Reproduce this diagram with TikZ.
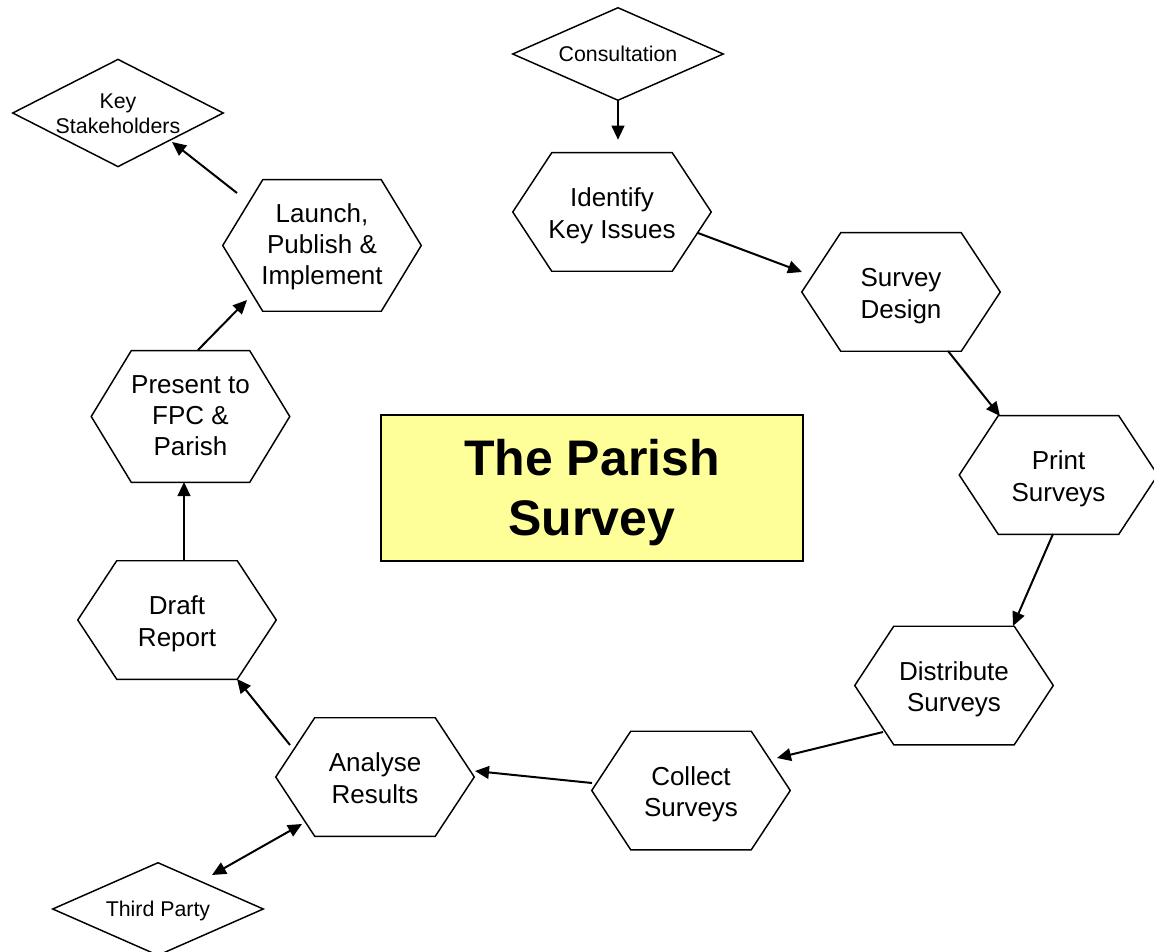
\documentclass[tikz,border=0pt]{standalone}
\usepackage{fontspec}
\setmainfont{Liberation Sans}
\usetikzlibrary{calc,arrows.meta}
\definecolor{titlefill}{HTML}{FFFF99}
\tikzset{
  hexbox/.style={rectangle,inner sep=0pt,minimum width=148.5pt,minimum height=88.5pt,font=\fontsize{19.5}{23.4}\selectfont},
  hextall/.style={hexbox,minimum height=98.25pt},
  diabox/.style={rectangle,inner sep=0pt,minimum width=157.5pt,minimum height=69pt,font=\fontsize{16}{19}\selectfont},
  outline/.style={draw=black,line width=1.1pt,line join=miter},
  conn/.style={draw=black,line width=1.5pt,-{Triangle[length=10.5pt,width=9.5pt]}},
  conn2/.style={draw=black,line width=1.5pt,{Triangle[length=10.5pt,width=9.5pt]}-{Triangle[length=10.5pt,width=9.5pt]}},
  titlebox/.style={rectangle,draw=black,line width=2.2pt,fill=titlefill,minimum width=316.5pt,minimum height=109.5pt,inner sep=0pt,font=\bfseries\fontsize{37.5}{45}\selectfont}
}
\newcommand{\lowtext}[2][3.2pt]{\raisebox{-#1}[\height][\depth]{\begin{tabular}{@{}c@{}}#2\end{tabular}}}
\newcommand{\hexline}[2]{\draw[outline] (#1.west) -- ($(#1.north west)+(#2,0)$) -- ($(#1.north east)+(-#2,0)$) -- (#1.east) -- ($(#1.south east)+(-#2,0)$) -- ($(#1.south west)+(#2,0)$) -- cycle;}
\newcommand{\dialine}[1]{\draw[outline] (#1.west) -- (#1.north) -- (#1.east) -- (#1.south) -- cycle;}
\begin{document}
\begin{tikzpicture}[x=0.75pt,y=-0.75pt]
\useasboundingbox (0,0) rectangle (1154,952);
% title
\node[titlebox] (title) at (592,488) {\lowtext[4pt]{The Parish\\Survey}};
% hexagons
\node[hexbox] (id) at (612,212) {\lowtext{Identify\\Key Issues}};
\node[hexbox] (sd) at (901,292) {\lowtext{Survey\\Design}};
\node[hexbox] (pr) at (1058.5,475) {\lowtext{Print\\Surveys}};
\node[hexbox] (di) at (954,685.5) {\lowtext{Distribute\\Surveys}};
\node[hexbox] (co) at (691,790.5) {\lowtext{Collect\\Surveys}};
\node[hexbox] (an) at (375,777) {\lowtext{Analyse\\Results}};
\node[hexbox] (dr) at (177,620) {\lowtext{Draft\\Report}};
\node[hextall] (pf) at (190.5,416.5) {\lowtext[1.5pt]{Present to\\FPC \&\\Parish}};
\node[hextall] (la) at (322,245.5) {\lowtext[1.5pt]{Launch,\\Publish \&\\Implement}};
\foreach \n in {id,sd,pr,di,co,an,dr} {\hexline{\n}{39}}
\foreach \n in {pf,la} {\hexline{\n}{40}}
% diamonds
\node[diabox] (cons) at (618,54) {\lowtext[2pt]{Consultation}};
\node[diabox,minimum height=80pt] (ks) at (118,113) {\lowtext[2pt]{Key\\Stakeholders}};
\node[diabox] (tp) at (158,909) {\lowtext[1.5pt]{Third Party}};
\foreach \n in {cons,ks,tp} {\dialine{\n}}
% connectors
\draw[conn] (cons.south) -- ($(id.north)+(6,-13)$);
\draw[conn] ($(id)+(86,21)$) -- ($(sd)+(-99,-20)$);
\draw[conn] ($(sd)+(47,59)$) -- ($(pr)+(-58.5,-59)$);
\draw[conn] ($(pr)+(-5.5,59)$) -- ($(di)+(59,-59.5)$);
\draw[conn] ($(di)+(-71,46.5)$) -- ($(co)+(86,-32.5)$);
\draw[conn] ($(co)+(-99,-7.5)$) -- ($(an)+(100,-6)$);
\draw[conn] ($(an)+(-85,-32)$) -- ($(dr)+(60,59)$);
\draw[conn] ($(dr)+(7,-59)$) -- ($(pf)+(-6.5,65.5)$);
\draw[conn] ($(pf)+(7.5,-66.5)$) -- ($(la)+(-75,54.5)$);
\draw[conn] ($(la)+(-85,-52.5)$) -- ($(ks)+(54,29)$);
\draw[conn2] ($(tp)+(54,-34)$) -- ($(an)+(-73,47)$);
\end{tikzpicture}
\end{document}
